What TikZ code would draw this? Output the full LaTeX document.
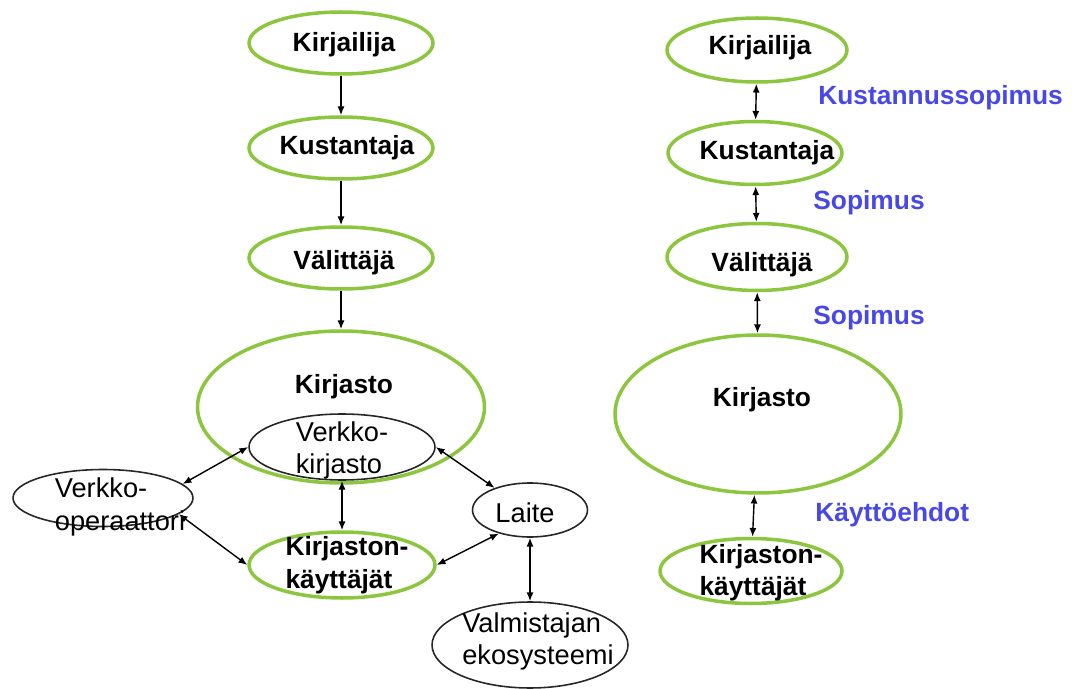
\documentclass[tikz,border=0pt]{standalone}
\usepackage{fontspec}
\setmainfont{Liberation Sans}
\usetikzlibrary{shapes.geometric,arrows.meta}

\definecolor{leafgreen}{RGB}{140,198,63}
\definecolor{termblue}{RGB}{72,72,232}

\tikzset{
  actor/.style={ellipse, draw=leafgreen, line width=2pt, inner sep=0pt,
    minimum width=3.68cm, minimum height=1.24cm},
  party/.style={ellipse, draw=black!85, line width=0.9pt, inner sep=0pt},
  btext/.style={font=\fontsize{15}{18.5}\selectfont\bfseries, align=left, inner sep=0pt},
  ptext/.style={font=\fontsize{15.5}{18.5}\selectfont, align=left, inner sep=0pt},
  term/.style={anchor=west, text=termblue, font=\fontsize{15}{18}\selectfont\bfseries, inner sep=0pt},
  flow/.style={line width=0.8pt, -{Latex[length=5pt,width=4pt]}},
  link/.style={line width=0.8pt, {Latex[length=5pt,width=4pt]}-{Latex[length=5pt,width=4pt]}},
}

\begin{document}
\begin{tikzpicture}[x=0.02cm, y=-0.02cm]
    \useasboundingbox (0,0) rectangle (1072,689);
    % left: chain down to the library
    \node[actor, label={[btext, xshift=0.06cm, yshift=-0.04cm]center:Kirjailija}] (writerL) at (341,43) {};
    \node[actor, label={[btext, xshift=0.12cm]center:Kustantaja}] (publisherL) at (341,148) {};
    \node[actor, label={[btext, xshift=0.06cm, yshift=-0.1cm]center:Välittäjä}] (agentL) at (341,258) {};
    \node[actor, minimum width=5.74cm, minimum height=3.04cm,
          label={[btext, xshift=0.06cm, yshift=0.4cm]center:Kirjasto}] (libraryL) at (341,407) {};
    \node[party, minimum width=3.72cm, minimum height=1.32cm,
          label={[ptext, yshift=-0.07cm]center:{Verkko-\\kirjasto}}] (elib) at (342,447) {};
    \node[party, minimum width=3.6cm, minimum height=1.14cm,
          label={[ptext, xshift=0.34cm, yshift=-0.18cm]center:{Verkko-\\operaattori}}] (operator) at (103,498) {};
    \node[actor, minimum width=3.72cm, minimum height=1.32cm,
          label={[btext, xshift=0.1cm]center:{Kirjaston-\\käyttäjät}}] (usersL) at (342,565) {};
    \node[party, minimum width=2.3cm, minimum height=1.08cm,
          label={[ptext, xshift=-0.1cm, yshift=-0.06cm]center:Laite}] (device) at (530,510) {};
    \node[party, minimum width=3.92cm, minimum height=1.72cm,
          label={[ptext, xshift=0.16cm, yshift=0.07cm]center:{Valmistajan\\ekosysteemi}}] (maker) at (530,645) {};

    \draw[flow] (writerL) -- (publisherL);
    \draw[flow] (publisherL) -- (agentL);
    \draw[flow] (agentL) -- (libraryL);
    \draw[link] (elib) -- (usersL);
    \draw[link] (operator.10) -- (elib.west);
    \draw[link] (operator.-12) -- (usersL.west);
    \draw[link] (elib.east) -- (device.148);
    \draw[link] (device.217) -- (usersL.east);
    \draw[link] (device) -- (maker);

    % right: the agreements between them
    \node[actor, minimum width=3.6cm, minimum height=1.28cm,
          label={[btext, xshift=0.06cm, yshift=0.04cm]center:Kirjailija}] (writerR) at (757,50) {};
    \node[actor, minimum width=3.48cm, minimum height=1.26cm,
          label={[btext, xshift=0.24cm]center:Kustantaja}] (publisherR) at (755,153) {};
    \node[actor, minimum width=3.6cm, minimum height=1.34cm,
          label={[btext, xshift=0.1cm, yshift=-0.16cm]center:Välittäjä}] (agentR) at (757,257) {};
    \node[actor, minimum width=5.72cm, minimum height=3.16cm,
          label={[btext, xshift=0.08cm, yshift=0.28cm]center:Kirjasto}] (libraryR) at (758,414) {};
    \node[actor, minimum width=3.64cm, minimum height=1.3cm,
          label={[btext, xshift=0.2cm, yshift=-0.03cm]center:{Kirjaston-\\käyttäjät}}] (usersR) at (751,571) {};

    \draw[link] (writerR) -- (publisherR);
    \draw[link] (publisherR) -- (agentR);
    \draw[link] (agentR) -- (libraryR);
    \draw[link] (libraryR) -- (usersR);

    \node[term] (pactA) at (818,98) {Kustannussopimus};
    \node[term] (pactB) at (813,203) {Sopimus};
    \node[term] (pactC) at (813,318) {Sopimus};
    \node[term] (pactD) at (815,515) {Käyttöehdot};
\end{tikzpicture}
\end{document}
